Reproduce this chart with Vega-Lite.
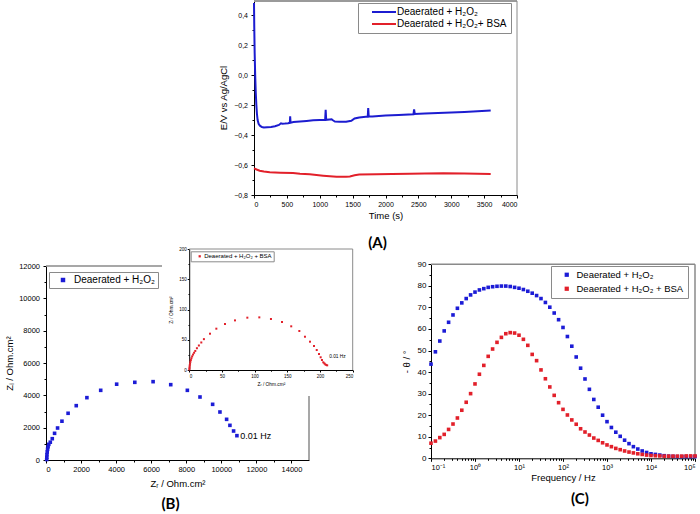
{
  "$schema": "https://vega.github.io/schema/vega-lite/v6.json",
  "width": 700,
  "height": 514,
  "autosize": {"type": "none"},
  "padding": 0,
  "background": "white",
  "config": {
    "view": {"stroke": null},
    "font": "Liberation Sans",
    "axis": {"grid": false, "tickSize": 3, "labelPadding": 2, "domainColor": "#000", "tickColor": "#000", "labelColor": "#000", "titleColor": "#000", "labelFont": "Liberation Sans", "titleFont": "Liberation Sans", "titleFontWeight": "normal", "labelFontSize": 7.5, "titleFontSize": 9.5},
    "legend": {"labelFont": "Liberation Sans", "labelColor": "#000", "strokeColor": "#8a8a8a", "padding": 4, "rowPadding": 2, "symbolOpacity": 1, "orient": "none"}
  },
  "datasets": {
    "A": [
      {"t": 0, "E": 0.48, "s": "Deaerated + H₂O₂"},
      {"t": 4, "E": 0.32, "s": "Deaerated + H₂O₂"},
      {"t": 10, "E": 0.15, "s": "Deaerated + H₂O₂"},
      {"t": 18, "E": 0.0, "s": "Deaerated + H₂O₂"},
      {"t": 27, "E": -0.12, "s": "Deaerated + H₂O₂"},
      {"t": 36, "E": -0.2, "s": "Deaerated + H₂O₂"},
      {"t": 45, "E": -0.26, "s": "Deaerated + H₂O₂"},
      {"t": 55, "E": -0.3, "s": "Deaerated + H₂O₂"},
      {"t": 70, "E": -0.325, "s": "Deaerated + H₂O₂"},
      {"t": 90, "E": -0.338, "s": "Deaerated + H₂O₂"},
      {"t": 120, "E": -0.347, "s": "Deaerated + H₂O₂"},
      {"t": 150, "E": -0.35, "s": "Deaerated + H₂O₂"},
      {"t": 200, "E": -0.348, "s": "Deaerated + H₂O₂"},
      {"t": 260, "E": -0.346, "s": "Deaerated + H₂O₂"},
      {"t": 320, "E": -0.342, "s": "Deaerated + H₂O₂"},
      {"t": 380, "E": -0.333, "s": "Deaerated + H₂O₂"},
      {"t": 410, "E": -0.322, "s": "Deaerated + H₂O₂"},
      {"t": 430, "E": -0.325, "s": "Deaerated + H₂O₂"},
      {"t": 470, "E": -0.324, "s": "Deaerated + H₂O₂"},
      {"t": 520, "E": -0.322, "s": "Deaerated + H₂O₂"},
      {"t": 545, "E": -0.318, "s": "Deaerated + H₂O₂"},
      {"t": 550, "E": -0.275, "s": "Deaerated + H₂O₂"},
      {"t": 556, "E": -0.318, "s": "Deaerated + H₂O₂"},
      {"t": 600, "E": -0.314, "s": "Deaerated + H₂O₂"},
      {"t": 700, "E": -0.31, "s": "Deaerated + H₂O₂"},
      {"t": 800, "E": -0.306, "s": "Deaerated + H₂O₂"},
      {"t": 900, "E": -0.302, "s": "Deaerated + H₂O₂"},
      {"t": 1000, "E": -0.3, "s": "Deaerated + H₂O₂"},
      {"t": 1082, "E": -0.299, "s": "Deaerated + H₂O₂"},
      {"t": 1090, "E": -0.232, "s": "Deaerated + H₂O₂"},
      {"t": 1098, "E": -0.299, "s": "Deaerated + H₂O₂"},
      {"t": 1150, "E": -0.296, "s": "Deaerated + H₂O₂"},
      {"t": 1180, "E": -0.295, "s": "Deaerated + H₂O₂"},
      {"t": 1200, "E": -0.302, "s": "Deaerated + H₂O₂"},
      {"t": 1230, "E": -0.31, "s": "Deaerated + H₂O₂"},
      {"t": 1300, "E": -0.312, "s": "Deaerated + H₂O₂"},
      {"t": 1400, "E": -0.311, "s": "Deaerated + H₂O₂"},
      {"t": 1480, "E": -0.305, "s": "Deaerated + H₂O₂"},
      {"t": 1530, "E": -0.29, "s": "Deaerated + H₂O₂"},
      {"t": 1600, "E": -0.283, "s": "Deaerated + H₂O₂"},
      {"t": 1700, "E": -0.279, "s": "Deaerated + H₂O₂"},
      {"t": 1730, "E": -0.279, "s": "Deaerated + H₂O₂"},
      {"t": 1737, "E": -0.22, "s": "Deaerated + H₂O₂"},
      {"t": 1745, "E": -0.277, "s": "Deaerated + H₂O₂"},
      {"t": 1800, "E": -0.276, "s": "Deaerated + H₂O₂"},
      {"t": 2000, "E": -0.27, "s": "Deaerated + H₂O₂"},
      {"t": 2200, "E": -0.266, "s": "Deaerated + H₂O₂"},
      {"t": 2425, "E": -0.262, "s": "Deaerated + H₂O₂"},
      {"t": 2435, "E": -0.23, "s": "Deaerated + H₂O₂"},
      {"t": 2445, "E": -0.26, "s": "Deaerated + H₂O₂"},
      {"t": 2600, "E": -0.257, "s": "Deaerated + H₂O₂"},
      {"t": 2900, "E": -0.252, "s": "Deaerated + H₂O₂"},
      {"t": 3200, "E": -0.246, "s": "Deaerated + H₂O₂"},
      {"t": 3400, "E": -0.241, "s": "Deaerated + H₂O₂"},
      {"t": 3600, "E": -0.236, "s": "Deaerated + H₂O₂"},
      {"t": 0, "E": -0.622, "s": "Deaerated + H₂O₂+ BSA"},
      {"t": 40, "E": -0.63, "s": "Deaerated + H₂O₂+ BSA"},
      {"t": 86, "E": -0.638, "s": "Deaerated + H₂O₂+ BSA"},
      {"t": 150, "E": -0.644, "s": "Deaerated + H₂O₂+ BSA"},
      {"t": 240, "E": -0.649, "s": "Deaerated + H₂O₂+ BSA"},
      {"t": 400, "E": -0.652, "s": "Deaerated + H₂O₂+ BSA"},
      {"t": 594, "E": -0.654, "s": "Deaerated + H₂O₂+ BSA"},
      {"t": 700, "E": -0.658, "s": "Deaerated + H₂O₂+ BSA"},
      {"t": 848, "E": -0.662, "s": "Deaerated + H₂O₂+ BSA"},
      {"t": 1052, "E": -0.671, "s": "Deaerated + H₂O₂+ BSA"},
      {"t": 1255, "E": -0.678, "s": "Deaerated + H₂O₂+ BSA"},
      {"t": 1400, "E": -0.678, "s": "Deaerated + H₂O₂+ BSA"},
      {"t": 1458, "E": -0.676, "s": "Deaerated + H₂O₂+ BSA"},
      {"t": 1530, "E": -0.668, "s": "Deaerated + H₂O₂+ BSA"},
      {"t": 1600, "E": -0.664, "s": "Deaerated + H₂O₂+ BSA"},
      {"t": 1864, "E": -0.662, "s": "Deaerated + H₂O₂+ BSA"},
      {"t": 2100, "E": -0.66, "s": "Deaerated + H₂O₂+ BSA"},
      {"t": 2372, "E": -0.658, "s": "Deaerated + H₂O₂+ BSA"},
      {"t": 2600, "E": -0.656, "s": "Deaerated + H₂O₂+ BSA"},
      {"t": 2880, "E": -0.655, "s": "Deaerated + H₂O₂+ BSA"},
      {"t": 3200, "E": -0.657, "s": "Deaerated + H₂O₂+ BSA"},
      {"t": 3600, "E": -0.66, "s": "Deaerated + H₂O₂+ BSA"}
    ],
    "B": [
      {"zr": 40, "zi": 30}, {"zr": 45, "zi": 170}, {"zr": 55, "zi": 330}, {"zr": 70, "zi": 495},
      {"zr": 90, "zi": 660}, {"zr": 120, "zi": 820}, {"zr": 160, "zi": 970}, {"zr": 245, "zi": 1100},
      {"zr": 358, "zi": 1318}, {"zr": 489, "zi": 1650}, {"zr": 660, "zi": 1979}, {"zr": 910, "zi": 2400},
      {"zr": 1260, "zi": 2890}, {"zr": 1725, "zi": 3361}, {"zr": 2333, "zi": 3856}, {"zr": 3120, "zi": 4310},
      {"zr": 4030, "zi": 4690}, {"zr": 5065, "zi": 4805}, {"zr": 6108, "zi": 4846}, {"zr": 7114, "zi": 4660},
      {"zr": 8062, "zi": 4310}, {"zr": 8783, "zi": 3897}, {"zr": 9504, "zi": 3444}, {"zr": 9921, "zi": 2969},
      {"zr": 10301, "zi": 2516}, {"zr": 10490, "zi": 2144}, {"zr": 10699, "zi": 1794}, {"zr": 10889, "zi": 1505}
    ],
    "Bi": [
      {"zr": 0.2, "zi": 1}, {"zr": 0.4, "zi": 3}, {"zr": 0.6, "zi": 5.5}, {"zr": 0.9, "zi": 8},
      {"zr": 1.3, "zi": 10.5}, {"zr": 1.8, "zi": 13.5}, {"zr": 2.5, "zi": 16.5}, {"zr": 3.4, "zi": 19.5},
      {"zr": 4.5, "zi": 22.5}, {"zr": 5.9, "zi": 25.5}, {"zr": 7.5, "zi": 28.5}, {"zr": 9.3, "zi": 31.5},
      {"zr": 11.8, "zi": 36}, {"zr": 14.8, "zi": 40.5}, {"zr": 18.5, "zi": 45.5}, {"zr": 22.5, "zi": 51},
      {"zr": 31.8, "zi": 60}, {"zr": 41.5, "zi": 68.3}, {"zr": 54.7, "zi": 76}, {"zr": 70, "zi": 82},
      {"zr": 88.9, "zi": 86.5}, {"zr": 107.2, "zi": 87}, {"zr": 125, "zi": 84.3}, {"zr": 141.9, "zi": 79.3},
      {"zr": 156, "zi": 72.2}, {"zr": 168.4, "zi": 64.5}, {"zr": 177, "zi": 55}, {"zr": 184.7, "zi": 46.8},
      {"zr": 190.8, "zi": 39.7}, {"zr": 195, "zi": 33}, {"zr": 198.5, "zi": 26.4}, {"zr": 201, "zi": 21},
      {"zr": 203, "zi": 16.5}, {"zr": 205, "zi": 12.7}, {"zr": 206.6, "zi": 11}, {"zr": 208, "zi": 9.4},
      {"zr": 209.6, "zi": 8.3}, {"zr": 211, "zi": 7.7}
    ],
    "C": [
      {"f": 0.1, "Deaerated + H₂O₂": 43.7, "Deaerated + H₂O₂ + BSA": 7.0},
      {"f": 0.1259, "Deaerated + H₂O₂": 49.4, "Deaerated + H₂O₂ + BSA": 8.0},
      {"f": 0.1585, "Deaerated + H₂O₂": 54.4, "Deaerated + H₂O₂ + BSA": 9.6},
      {"f": 0.1995, "Deaerated + H₂O₂": 59.1, "Deaerated + H₂O₂ + BSA": 11.1},
      {"f": 0.2512, "Deaerated + H₂O₂": 63.1, "Deaerated + H₂O₂ + BSA": 13.4},
      {"f": 0.3162, "Deaerated + H₂O₂": 66.5, "Deaerated + H₂O₂ + BSA": 15.9},
      {"f": 0.3981, "Deaerated + H₂O₂": 69.6, "Deaerated + H₂O₂ + BSA": 18.7},
      {"f": 0.5012, "Deaerated + H₂O₂": 72.1, "Deaerated + H₂O₂ + BSA": 22.3},
      {"f": 0.631, "Deaerated + H₂O₂": 74.1, "Deaerated + H₂O₂ + BSA": 26.0},
      {"f": 0.7943, "Deaerated + H₂O₂": 75.8, "Deaerated + H₂O₂ + BSA": 30.0},
      {"f": 1, "Deaerated + H₂O₂": 77.1, "Deaerated + H₂O₂ + BSA": 34.5},
      {"f": 1.259, "Deaerated + H₂O₂": 78.1, "Deaerated + H₂O₂ + BSA": 39.0},
      {"f": 1.585, "Deaerated + H₂O₂": 78.7, "Deaerated + H₂O₂ + BSA": 43.1},
      {"f": 1.995, "Deaerated + H₂O₂": 79.3, "Deaerated + H₂O₂ + BSA": 47.3},
      {"f": 2.512, "Deaerated + H₂O₂": 79.6, "Deaerated + H₂O₂ + BSA": 50.7},
      {"f": 3.162, "Deaerated + H₂O₂": 79.8, "Deaerated + H₂O₂ + BSA": 53.8},
      {"f": 3.981, "Deaerated + H₂O₂": 79.9, "Deaerated + H₂O₂ + BSA": 56.1},
      {"f": 5.012, "Deaerated + H₂O₂": 79.9, "Deaerated + H₂O₂ + BSA": 57.8},
      {"f": 6.31, "Deaerated + H₂O₂": 79.7, "Deaerated + H₂O₂ + BSA": 58.3},
      {"f": 7.943, "Deaerated + H₂O₂": 79.3, "Deaerated + H₂O₂ + BSA": 58.1},
      {"f": 10, "Deaerated + H₂O₂": 78.9, "Deaerated + H₂O₂ + BSA": 57.1},
      {"f": 12.59, "Deaerated + H₂O₂": 78.3, "Deaerated + H₂O₂ + BSA": 55.2},
      {"f": 15.85, "Deaerated + H₂O₂": 77.5, "Deaerated + H₂O₂ + BSA": 52.4},
      {"f": 19.95, "Deaerated + H₂O₂": 76.6, "Deaerated + H₂O₂ + BSA": 48.2},
      {"f": 25.12, "Deaerated + H₂O₂": 75.5, "Deaerated + H₂O₂ + BSA": 45.3},
      {"f": 31.62, "Deaerated + H₂O₂": 74.1, "Deaerated + H₂O₂ + BSA": 41.0},
      {"f": 39.81, "Deaerated + H₂O₂": 72.3, "Deaerated + H₂O₂ + BSA": 36.9},
      {"f": 50.12, "Deaerated + H₂O₂": 70.1, "Deaerated + H₂O₂ + BSA": 33.1},
      {"f": 63.1, "Deaerated + H₂O₂": 67.4, "Deaerated + H₂O₂ + BSA": 29.2},
      {"f": 79.43, "Deaerated + H₂O₂": 64.3, "Deaerated + H₂O₂ + BSA": 25.8},
      {"f": 100, "Deaerated + H₂O₂": 60.7, "Deaerated + H₂O₂ + BSA": 22.7},
      {"f": 125.9, "Deaerated + H₂O₂": 56.5, "Deaerated + H₂O₂ + BSA": 20.1},
      {"f": 158.5, "Deaerated + H₂O₂": 52.0, "Deaerated + H₂O₂ + BSA": 17.8},
      {"f": 199.5, "Deaerated + H₂O₂": 47.0, "Deaerated + H₂O₂ + BSA": 15.8},
      {"f": 251.2, "Deaerated + H₂O₂": 41.8, "Deaerated + H₂O₂ + BSA": 13.7},
      {"f": 316.2, "Deaerated + H₂O₂": 36.8, "Deaerated + H₂O₂ + BSA": 12.2},
      {"f": 398.1, "Deaerated + H₂O₂": 32.0, "Deaerated + H₂O₂ + BSA": 10.8},
      {"f": 501.2, "Deaerated + H₂O₂": 27.3, "Deaerated + H₂O₂ + BSA": 9.4},
      {"f": 631, "Deaerated + H₂O₂": 23.7, "Deaerated + H₂O₂ + BSA": 8.3},
      {"f": 794.3, "Deaerated + H₂O₂": 20.0, "Deaerated + H₂O₂ + BSA": 7.2},
      {"f": 1000, "Deaerated + H₂O₂": 17.0, "Deaerated + H₂O₂ + BSA": 6.2},
      {"f": 1259, "Deaerated + H₂O₂": 14.3, "Deaerated + H₂O₂ + BSA": 5.4},
      {"f": 1585, "Deaerated + H₂O₂": 12.1, "Deaerated + H₂O₂ + BSA": 4.6},
      {"f": 1995, "Deaerated + H₂O₂": 10.2, "Deaerated + H₂O₂ + BSA": 4.0},
      {"f": 2512, "Deaerated + H₂O₂": 8.4, "Deaerated + H₂O₂ + BSA": 3.4},
      {"f": 3162, "Deaerated + H₂O₂": 6.8, "Deaerated + H₂O₂ + BSA": 2.9},
      {"f": 3981, "Deaerated + H₂O₂": 5.4, "Deaerated + H₂O₂ + BSA": 2.5},
      {"f": 5012, "Deaerated + H₂O₂": 4.3, "Deaerated + H₂O₂ + BSA": 2.1},
      {"f": 6310, "Deaerated + H₂O₂": 3.4, "Deaerated + H₂O₂ + BSA": 1.8},
      {"f": 7943, "Deaerated + H₂O₂": 2.7, "Deaerated + H₂O₂ + BSA": 1.5},
      {"f": 10000, "Deaerated + H₂O₂": 2.1, "Deaerated + H₂O₂ + BSA": 1.3},
      {"f": 12590, "Deaerated + H₂O₂": 1.8, "Deaerated + H₂O₂ + BSA": 1.2},
      {"f": 15850, "Deaerated + H₂O₂": 1.5, "Deaerated + H₂O₂ + BSA": 1.1},
      {"f": 19950, "Deaerated + H₂O₂": 1.2, "Deaerated + H₂O₂ + BSA": 1.0},
      {"f": 25120, "Deaerated + H₂O₂": 1.0, "Deaerated + H₂O₂ + BSA": 1.0},
      {"f": 31620, "Deaerated + H₂O₂": 0.9, "Deaerated + H₂O₂ + BSA": 1.0},
      {"f": 39810, "Deaerated + H₂O₂": 0.8, "Deaerated + H₂O₂ + BSA": 1.0},
      {"f": 50120, "Deaerated + H₂O₂": 0.8, "Deaerated + H₂O₂ + BSA": 1.0},
      {"f": 63100, "Deaerated + H₂O₂": 0.8, "Deaerated + H₂O₂ + BSA": 1.1},
      {"f": 79430, "Deaerated + H₂O₂": 0.8, "Deaerated + H₂O₂ + BSA": 1.1},
      {"f": 100000, "Deaerated + H₂O₂": 0.8, "Deaerated + H₂O₂ + BSA": 1.1}
    ]
  },
  "layer": [
    {
      "data": {"values": [{"k": "At"}]},
      "mark": {"type": "rule", "stroke": "#9a9a9a", "strokeWidth": 2},
      "encoding": {
        "x": {"datum": 0, "scale": {"domain": [0, 1], "range": [254, 517], "nice": false}, "axis": null}, "x2": {"datum": 1},
        "y": {"datum": 1, "scale": {"domain": [0, 1], "range": [195, 1], "nice": false}, "axis": null}
      }
    },
    {
      "data": {"values": [{"k": "Ar"}]},
      "mark": {"type": "rule", "stroke": "#8a8a8a", "strokeWidth": 1},
      "encoding": {
        "x": {"datum": 1, "scale": {"domain": [0, 1], "range": [254, 517], "nice": false}, "axis": null},
        "y": {"datum": 0, "scale": {"domain": [0, 1], "range": [195, 1], "nice": false}, "axis": null}, "y2": {"datum": 1}
      }
    },
    {
      "data": {"values": [{"k": "Am"}]},
      "mark": {"type": "point", "opacity": 0},
      "encoding": {
        "x": {"datum": 0, "scale": {"domain": [0, 4000], "range": [254, 517], "nice": false},
          "axis": {"orient": "bottom", "offset": -319, "values": [250, 750, 1250, 1750, 2250, 2750, 3250, 3750], "labels": false, "domain": false, "tickSize": 2, "title": null}},
        "y": {"datum": 0, "scale": {"domain": [-0.8, 0.5], "range": [195, 0], "nice": false},
          "axis": {"orient": "left", "offset": -254, "values": [-0.7, -0.5, -0.3, -0.1, 0.1, 0.3], "labels": false, "domain": false, "tickSize": 2, "title": null}}
      }
    },
    {
      "data": {"name": "A"},
      "mark": {"type": "line", "strokeWidth": 2},
      "encoding": {
        "x": {"field": "t", "type": "quantitative", "scale": {"domain": [0, 4000], "range": [254, 517], "nice": false},
          "axis": {"orient": "bottom", "offset": -319, "values": [0, 500, 1000, 1500, 2000, 2500, 3000, 3500, 4000], "format": "d", "labelFontSize": 7, "title": "Time (s)", "titlePadding": 3}},
        "y": {"field": "E", "type": "quantitative", "scale": {"domain": [-0.8, 0.5], "range": [195, 0], "nice": false},
          "axis": {"orient": "left", "offset": -254, "values": [-0.8, -0.6, -0.4, -0.2, 0, 0.2, 0.4], "labelExpr": "replace(format(datum.value, '.1f'), '.', ',')", "labelFontSize": 7, "labelPadding": 3.5, "title": "E/V vs Ag/AgCl", "titlePadding": 5}},
        "color": {"field": "s", "type": "nominal",
          "scale": {"domain": ["Deaerated + H₂O₂", "Deaerated + H₂O₂+ BSA"], "range": ["#1c1cd0", "#e2202a"]},
          "legend": {"title": null, "orient": "none", "legendX": 358, "legendY": 3, "symbolType": "M-3,0L3,0", "symbolSize": 64, "symbolStrokeWidth": 2, "symbolOffset": 17, "labelOffset": 8, "labelFontSize": 10, "labelExpr": "datum.label + '    '"}}
      }
    },
    {
      "data": {"values": [{"label": "(A)"}]},
      "mark": {"type": "text", "font": "Lato", "fontWeight": "bold", "fontSize": 15},
      "encoding": {
        "x": {"datum": 1878, "scale": {"domain": [0, 4000], "range": [254, 517], "nice": false}, "axis": null},
        "y": {"datum": -1.117, "scale": {"domain": [-0.8, 0.5], "range": [195, 0], "nice": false}, "axis": null},
        "text": {"field": "label"}
      }
    },
    {
      "data": {"values": [{"k": "Bt"}]},
      "mark": {"type": "rule", "stroke": "#8a8a8a", "strokeWidth": 1.5},
      "encoding": {
        "x": {"datum": 0, "scale": {"domain": [0, 1], "range": [46, 162], "nice": false}, "axis": null}, "x2": {"datum": 1},
        "y": {"datum": 1, "scale": {"domain": [0, 1], "range": [460, 266], "nice": false}, "axis": null}
      }
    },
    {
      "data": {"values": [{"k": "Br"}]},
      "mark": {"type": "rule", "stroke": "#8a8a8a", "strokeWidth": 1.5},
      "encoding": {
        "x": {"datum": 1, "scale": {"domain": [0, 1], "range": [46, 309], "nice": false}, "axis": null},
        "y": {"datum": 0, "scale": {"domain": [0, 1], "range": [460, 396], "nice": false}, "axis": null}, "y2": {"datum": 1}
      }
    },
    {
      "data": {"values": [{"k": "Bm"}]},
      "mark": {"type": "point", "opacity": 0},
      "encoding": {
        "x": {"datum": 0, "scale": {"domain": [0, 15000], "range": [46, 309], "nice": false},
          "axis": {"orient": "bottom", "offset": -54, "values": [1000, 3000, 5000, 7000, 9000, 11000, 13000], "labels": false, "domain": false, "tickSize": 2, "title": null}},
        "y": {"datum": 0, "scale": {"domain": [0, 12000], "range": [460, 266], "nice": false},
          "axis": {"orient": "left", "offset": -46, "values": [1000, 3000, 5000, 7000, 9000, 11000], "labels": false, "domain": false, "tickSize": 2, "title": null}}
      }
    },
    {
      "data": {"name": "B"},
      "transform": [{"calculate": "'Deaerated + H₂O₂'", "as": "s"}],
      "mark": {"type": "square", "size": 13, "opacity": 1},
      "encoding": {
        "x": {"field": "zr", "type": "quantitative", "scale": {"domain": [0, 15000], "range": [46, 309], "nice": false},
          "axis": {"orient": "bottom", "offset": -54, "values": [0, 2000, 4000, 6000, 8000, 10000, 12000, 14000], "format": "d", "title": "Zᵣ / Ohm.cm²", "titlePadding": 6}},
        "y": {"field": "zi", "type": "quantitative", "scale": {"domain": [0, 12000], "range": [460, 266], "nice": false},
          "axis": {"orient": "left", "offset": -46, "values": [0, 2000, 4000, 6000, 8000, 10000, 12000], "format": "d", "labelPadding": 3.5, "title": "Zᵢ / Ohm.cm²", "titlePadding": 4}},
        "color": {"field": "s", "type": "nominal", "scale": {"domain": ["Deaerated + H₂O₂"], "range": ["#1c1cd6"]},
          "legend": {"title": null, "orient": "none", "legendX": 49, "legendY": 272, "symbolType": "square", "symbolSize": 20, "symbolOffset": 6, "labelOffset": 6, "labelFontSize": 10, "padding": 3}}
      }
    },
    {
      "data": {"values": [{"label": "0.01 Hz"}]},
      "mark": {"type": "text", "align": "left", "fontSize": 9, "font": "Liberation Sans"},
      "encoding": {
        "x": {"datum": 11080, "scale": {"domain": [0, 15000], "range": [46, 309], "nice": false}, "axis": null},
        "y": {"datum": 1500, "scale": {"domain": [0, 12000], "range": [460, 266], "nice": false}, "axis": null},
        "text": {"field": "label"}
      }
    },
    {
      "data": {"values": [{"label": "(B)"}]},
      "mark": {"type": "text", "font": "Lato", "fontWeight": "bold", "fontSize": 15},
      "encoding": {
        "x": {"datum": 7100, "scale": {"domain": [0, 15000], "range": [46, 309], "nice": false}, "axis": null},
        "y": {"datum": -2750, "scale": {"domain": [0, 12000], "range": [460, 266], "nice": false}, "axis": null},
        "text": {"field": "label"}
      }
    },
    {
      "data": {"values": [{"k": "It"}]},
      "mark": {"type": "rule", "stroke": "#8a8a8a", "strokeWidth": 1},
      "encoding": {
        "x": {"datum": 0, "scale": {"domain": [0, 1], "range": [189.2, 352.7], "nice": false}, "axis": null}, "x2": {"datum": 1},
        "y": {"datum": 1, "scale": {"domain": [0, 1], "range": [370, 249], "nice": false}, "axis": null}
      }
    },
    {
      "data": {"values": [{"k": "Ir"}]},
      "mark": {"type": "rule", "stroke": "#8a8a8a", "strokeWidth": 1},
      "encoding": {
        "x": {"datum": 1, "scale": {"domain": [0, 1], "range": [189.2, 352.7], "nice": false}, "axis": null},
        "y": {"datum": 0, "scale": {"domain": [0, 1], "range": [370, 249], "nice": false}, "axis": null}, "y2": {"datum": 1}
      }
    },
    {
      "data": {"values": [{"k": "Im"}]},
      "mark": {"type": "point", "opacity": 0},
      "encoding": {
        "x": {"datum": 0, "scale": {"domain": [0, 250], "range": [189.2, 352.7], "nice": false},
          "axis": {"orient": "bottom", "offset": -144, "values": [25, 75, 125, 175, 225], "labels": false, "domain": false, "tickSize": 1.2, "title": null}},
        "y": {"datum": 0, "scale": {"domain": [0, 200], "range": [370, 249], "nice": false},
          "axis": {"orient": "left", "offset": -189.2, "values": [25, 75, 125, 175], "labels": false, "domain": false, "tickSize": 1.2, "title": null}}
      }
    },
    {
      "data": {"name": "Bi"},
      "transform": [{"calculate": "'Deaerated + H₂O₂ + BSA'", "as": "s"}],
      "mark": {"type": "square", "size": 4, "opacity": 1},
      "encoding": {
        "x": {"field": "zr", "type": "quantitative", "scale": {"domain": [0, 250], "range": [189.2, 352.7], "nice": false},
          "axis": {"orient": "bottom", "offset": -144, "values": [0, 50, 100, 150, 200, 250], "tickSize": 2, "labelFontSize": 4.5, "labelPadding": 1, "titleFontSize": 4.8, "title": "Zᵣ / Ohm.cm²", "titlePadding": 4}},
        "y": {"field": "zi", "type": "quantitative", "scale": {"domain": [0, 200], "range": [370, 249], "nice": false},
          "axis": {"orient": "left", "offset": -189.2, "values": [0, 50, 100, 150, 200], "tickSize": 2, "labelFontSize": 4.5, "labelPadding": 1, "titleFontSize": 4.8, "title": "Zᵢ / Ohm.cm²", "titlePadding": 5}},
        "color": {"field": "s", "type": "nominal", "scale": {"domain": ["Deaerated + H₂O₂ + BSA"], "range": ["#e2202a"]},
          "legend": {"title": null, "orient": "none", "legendX": 190.7, "legendY": 251.3, "symbolType": "square", "symbolSize": 5, "symbolOffset": 4, "labelOffset": 1.5, "labelFontSize": 6, "padding": 2, "labelExpr": "datum.label + '        '"}}
      }
    },
    {
      "data": {"values": [{"label": "0.01 Hz"}]},
      "mark": {"type": "text", "align": "left", "fontSize": 4.8, "font": "Liberation Sans"},
      "encoding": {
        "x": {"datum": 214, "scale": {"domain": [0, 250], "range": [189.2, 352.7], "nice": false}, "axis": null},
        "y": {"datum": 21.5, "scale": {"domain": [0, 200], "range": [370, 249], "nice": false}, "axis": null},
        "text": {"field": "label"}
      }
    },
    {
      "data": {"values": [{"k": "Ct"}]},
      "mark": {"type": "rule", "stroke": "#8a8a8a", "strokeWidth": 1.5},
      "encoding": {
        "x": {"datum": 0, "scale": {"domain": [0, 1], "range": [431, 695], "nice": false}, "axis": null}, "x2": {"datum": 1},
        "y": {"datum": 1, "scale": {"domain": [0, 1], "range": [458.3, 264.3], "nice": false}, "axis": null}
      }
    },
    {
      "data": {"values": [{"k": "Cr"}]},
      "mark": {"type": "rule", "stroke": "#8a8a8a", "strokeWidth": 1.5},
      "encoding": {
        "x": {"datum": 1, "scale": {"domain": [0, 1], "range": [431, 695], "nice": false}, "axis": null},
        "y": {"datum": 0, "scale": {"domain": [0, 1], "range": [458.3, 264.3], "nice": false}, "axis": null}, "y2": {"datum": 1}
      }
    },
    {
      "data": {"values": [{"k": "Cm"}]},
      "mark": {"type": "point", "opacity": 0},
      "encoding": {
        "x": {"datum": 1, "scale": {"type": "log", "domain": [0.1, 100000], "range": [431, 695], "nice": false},
          "axis": {"orient": "bottom", "offset": -55.7, "values": [0.2, 0.3, 0.4, 0.5, 0.6, 0.7, 0.8, 0.9, 2, 3, 4, 5, 6, 7, 8, 9, 20, 30, 40, 50, 60, 70, 80, 90, 200, 300, 400, 500, 600, 700, 800, 900, 2000, 3000, 4000, 5000, 6000, 7000, 8000, 9000, 20000, 30000, 40000, 50000, 60000, 70000, 80000, 90000], "labels": false, "domain": false, "tickSize": 2, "title": null}},
        "y": {"datum": 0, "scale": {"domain": [0, 90], "range": [458.3, 264.3], "nice": false},
          "axis": {"orient": "left", "offset": -431, "values": [5, 15, 25, 35, 45, 55, 65, 75, 85], "labels": false, "domain": false, "tickSize": 2, "title": null}}
      }
    },
    {
      "data": {"name": "C"},
      "transform": [{"fold": ["Deaerated + H₂O₂", "Deaerated + H₂O₂ + BSA"], "as": ["s", "theta"]}],
      "mark": {"type": "square", "size": 13, "opacity": 1},
      "encoding": {
        "x": {"field": "f", "type": "quantitative", "scale": {"type": "log", "domain": [0.1, 100000], "range": [431, 695], "nice": false},
          "axis": {"orient": "bottom", "offset": -55.7, "values": [0.1, 1, 10, 100, 1000, 10000, 100000], "labelFontSize": 7.5, "labelExpr": "datum.value < 0.5 ? '10⁻¹' : datum.value < 5 ? '10⁰' : datum.value < 50 ? '10¹' : datum.value < 500 ? '10²' : datum.value < 5000 ? '10³' : datum.value < 50000 ? '10⁴' : '10⁵'", "title": "Frequency / Hz", "titlePadding": 2}},
        "y": {"field": "theta", "type": "quantitative", "scale": {"domain": [0, 90], "range": [458.3, 264.3], "nice": false},
          "axis": {"orient": "left", "offset": -431, "values": [0, 10, 20, 30, 40, 50, 60, 70, 80, 90], "labelFontSize": 8, "title": "- θ / °", "titlePadding": 6}},
        "color": {"field": "s", "type": "nominal", "scale": {"domain": ["Deaerated + H₂O₂", "Deaerated + H₂O₂ + BSA"], "range": ["#1c1cd6", "#e2202a"]},
          "legend": {"title": null, "orient": "none", "legendX": 551, "legendY": 266, "symbolType": "square", "symbolSize": 18, "symbolOffset": 7, "labelOffset": 5, "labelFontSize": 9.5, "rowPadding": 3, "labelExpr": "datum.label + '  '"}}
      }
    },
    {
      "data": {"values": [{"label": "(C)"}]},
      "mark": {"type": "text", "font": "Lato", "fontWeight": "bold", "fontSize": 15},
      "encoding": {
        "x": {"datum": 243, "scale": {"type": "log", "domain": [0.1, 100000], "range": [431, 695], "nice": false}, "axis": null},
        "y": {"datum": -19, "scale": {"domain": [0, 90], "range": [458.3, 264.3], "nice": false}, "axis": null},
        "text": {"field": "label"}
      }
    }
  ],
  "resolve": {
    "scale": {"x": "independent", "y": "independent", "color": "independent"},
    "axis": {"x": "independent", "y": "independent"},
    "legend": {"color": "independent"}
  }
}
